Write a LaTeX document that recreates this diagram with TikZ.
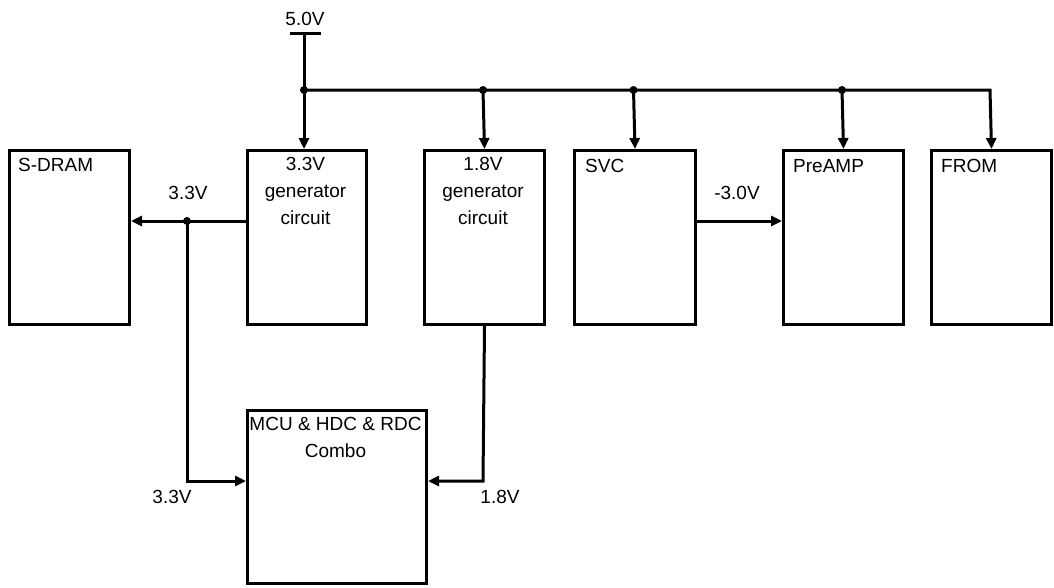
\documentclass[tikz,border=0pt]{standalone}
\usepackage{fontspec}
\setmainfont{Liberation Sans}
\usetikzlibrary{arrows.meta}
\begin{document}
\begin{tikzpicture}[x=1pt,y=1pt,
  box/.style={draw, line width=3pt, minimum width=#1, minimum height=174pt, anchor=north west, inner sep=0pt},
  txt/.style={font=\fontsize{19}{27}\selectfont, inner sep=0pt},
  wire/.style={line width=3pt, line join=miter},
  arr/.style={wire, -{Triangle[length=11pt,width=10pt]}},
  dot/.style={circle, fill=black, minimum size=8pt, inner sep=0pt}]
\useasboundingbox (0,0) rectangle (1054,-587);
% boxes
\node[box=120pt] (sdram) at (8,-149) {};
\node[box=119pt] (g33) at (246,-149) {};
\node[box=120pt] (g18) at (423,-149) {};
\node[box=121pt] (svc) at (573,-149) {};
\node[box=120pt] (pre) at (782,-149) {};
\node[box=120pt] (from) at (930,-149) {};
\node[draw, line width=3pt, minimum width=179pt, minimum height=173pt, anchor=north west, inner sep=0pt] (mcu) at (246,-409) {};
% box texts
\node[txt, anchor=west] (tsdram) at (18,-165) {S-DRAM};
\node[txt, anchor=west] (tsvc) at (585,-166) {SVC};
\node[txt, anchor=west] (tpre) at (793,-166) {PreAMP};
\node[txt, anchor=west] (tfrom) at (941,-166) {FROM};
\node[txt, align=center, anchor=north] (tg33) at (305.5,-157) {3.3V\\generator\\circuit};
\node[txt, align=center, anchor=north] (tg18) at (483,-157) {1.8V\\generator\\circuit};
\node[txt, align=center, anchor=north] (tmcu) at (335.5,-417) {MCU \& HDC \& RDC\\Combo};
% supply
\coordinate (vtop) at (304,-33);
\coordinate (barl) at (290,-33);
\coordinate (barr) at (321,-33);
\node[txt] (l50) at (305,-19) {5.0V};
\draw[wire] (barl) -- (barr);
\coordinate (j1) at (304,-90);
\coordinate (j2) at (483,-90);
\coordinate (j3) at (633.5,-90);
\coordinate (j4) at (842,-90);
\coordinate (jf) at (990,-90);
\draw[arr] (vtop) -- (j1) -- (j1 |- g33.north);
\draw[arr] (j1) -- (jf) -- (from.north);
\draw[arr] (j2) -- (g18.north);
\draw[arr] (j3) -- (svc.north);
\draw[arr] (j4) -- (pre.north);
\node[dot] (d1) at (j1) {};
\node[dot] (d2) at (j2) {};
\node[dot] (d3) at (j3) {};
\node[dot] (d4) at (j4) {};
% 3.3V distribution
\coordinate (g33w) at (246,-221);
\coordinate (j5) at (187,-221);
\coordinate (c33) at (187,-481);
\draw[arr] (g33w) -- (sdram.east |- g33w);
\draw[arr] (j5) -- (c33) -- (mcu.west |- c33);
\node[dot] (d5) at (j5) {};
\node[txt] (l33a) at (188,-193) {3.3V};
\node[txt] (l33b) at (172,-497) {3.3V};
% 1.8V
\coordinate (c18) at (483,-481);
\draw[arr] (g18.south) -- (c18) -- (mcu.east |- c18);
\node[txt] (l18) at (500,-497) {1.8V};
% -3.0V
\coordinate (svce) at (694,-221);
\draw[arr] (svce) -- (pre.west |- svce);
\node[txt] (l30) at (737,-193) {-3.0V};
\end{tikzpicture}
\end{document}
